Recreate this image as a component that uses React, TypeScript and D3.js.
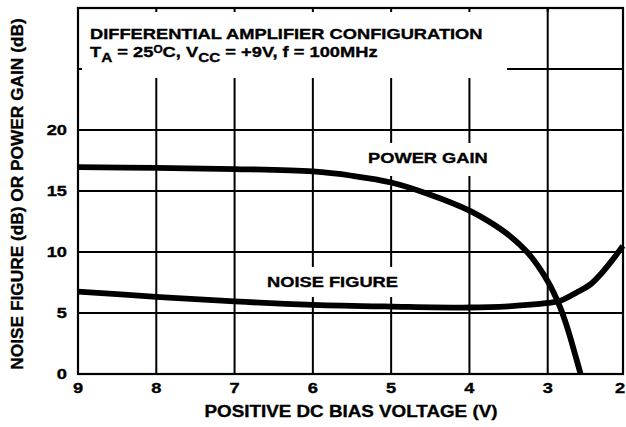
import React from 'react';
import * as d3 from 'd3';

// Power gain (dB) vs positive DC bias voltage (V)
const gainVolts = [9, 8, 7, 6, 5.5, 5, 4.5, 4, 3.75, 3.5, 3.25, 3.0, 2.85, 2.75, 2.65, 2.58];
const gainDb = [16.95, 16.9, 16.8, 16.6, 16.25, 15.7, 14.7, 13.4, 12.5, 11.4, 9.9, 7.6, 5.6, 3.8, 1.6, 0];

// Noise figure (dB) vs positive DC bias voltage (V)
const noiseVolts = [9, 8, 7, 6, 5, 4, 3.5, 3.0, 2.84, 2.63, 2.45, 2.32, 2.18, 2.04];
const noiseDb = [6.75, 6.33, 5.95, 5.67, 5.53, 5.45, 5.55, 5.82, 6.0, 6.68, 7.37, 8.2, 9.29, 10.5];

const xTicks = [9, 8, 7, 6, 5, 4, 3, 2];
const yTicks = [0, 5, 10, 15, 20];
const yGrid = [5, 10, 15, 20, 25];

const FONT = '"Liberation Sans", Arial, Helvetica, sans-serif';

// Helvetica in the original is set a little wide: stretch horizontally
const WideText: React.FC<{
  x: number; y: number; size?: number; sx?: number; anchor?: 'start' | 'middle' | 'end'; children: React.ReactNode;
}> = ({ x, y, size = 15.5, sx = 1.18, anchor = 'start', children }) => (
  <g transform={`translate(${x},${y}) scale(${sx},1)`}>
    <text textAnchor={anchor} fontSize={size} fontFamily={FONT} fontWeight="bold" fill="#000"
      stroke="#000" strokeWidth={0.35} style={{ whiteSpace: 'pre' }}>
      {children}
    </text>
  </g>
);

const App: React.FC = () => {
  const width = 626;
  const height = 427;
  const left = 78, right = 623, top = 8, bottom = 374;

  // the 2 V gridline falls right at the image edge
  const x = d3.scaleLinear().domain([9, 2]).range([left, 626]);
  const y = d3.scaleLinear().domain([0, 30]).range([bottom, top]);

  const line = d3.line<[number, number]>()
    .x(d => x(d[0]))
    .y(d => y(d[1]))
    .curve(d3.curveCatmullRom.alpha(0.5));

  const gainPath = line(gainVolts.map((v, i) => [v, gainDb[i]] as [number, number])) || '';
  const noisePath = line(noiseVolts.map((v, i) => [v, noiseDb[i]] as [number, number])) || '';

  return (
    <svg width={width} height={height} style={{ position: 'absolute', left: 0, top: 0, background: '#fff' }}>
      {/* grid */}
      {xTicks.slice(1, -1).map(v => (
        <line key={`gx${v}`} x1={x(v)} x2={x(v)} y1={y(0)} y2={y(30)} stroke="#000" strokeWidth={2} />
      ))}
      {yGrid.map(v => (
        <line key={`gy${v}`} x1={left} x2={right} y1={y(v)} y2={y(v)} stroke="#000" strokeWidth={2} />
      ))}

      {/* white areas behind title and curve labels */}
      <rect x={left + 1} y={top + 1} width={506 - left} height={77 - top} fill="#fff" />
      <rect x={362} y={143} width={132} height={33} fill="#fff" />
      <rect x={262} y={267} width={142} height={30} fill="#fff" />

      {/* small inward ticks on frame where the grid is masked */}
      {xTicks.slice(1, -1).map(v => (
        <line key={`tt${v}`} x1={x(v)} x2={x(v)} y1={top} y2={top + 4} stroke="#000" strokeWidth={2} />
      ))}
      <line x1={left} x2={left + 4} y1={y(25)} y2={y(25)} stroke="#000" strokeWidth={2} />

      {/* frame */}
      <rect x={left} y={top} width={right - left} height={bottom - top} fill="none" stroke="#000" strokeWidth={2.2} />

      {/* curves */}
      <path d={gainPath} fill="none" stroke="#000" strokeWidth={5.8} />
      <path d={noisePath} fill="none" stroke="#000" strokeWidth={5.8} />

      {/* title */}
      <WideText x={90} y={39.3}>DIFFERENTIAL AMPLIFIER CONFIGURATION</WideText>
      <WideText x={90} y={57.3}>
        <tspan>T</tspan>
        <tspan fontSize={13} dy={4.4}>A</tspan>
        <tspan dy={-4.4}>{' = 25'}</tspan>
        <tspan fontSize={10} dy={-4.3}>O</tspan>
        <tspan dy={4.3}>{'C, V'}</tspan>
        <tspan fontSize={13} dy={4.4}>CC</tspan>
        <tspan dy={-4.4}>{' = +9V, f = 100MHz'}</tspan>
      </WideText>

      {/* curve labels */}
      <WideText x={368} y={163}>POWER GAIN</WideText>
      <WideText x={267} y={287}>NOISE FIGURE</WideText>

      {/* tick labels */}
      {yTicks.map(v => (
        <WideText key={`yl${v}`} x={67} y={y(v) + 4.5} anchor="end">{String(v)}</WideText>
      ))}
      {xTicks.map(v => (
        <WideText key={`xl${v}`} x={Math.min(x(v), 620)} y={393} anchor="middle">{String(v)}</WideText>
      ))}

      {/* axis titles */}
      <WideText x={351} y={417} size={16.8} sx={1.12} anchor="middle">POSITIVE DC BIAS VOLTAGE (V)</WideText>
      <g transform={`translate(22.7,194) rotate(-90)`}>
        <text textAnchor="middle" fontSize={17.3} fontFamily={FONT} fontWeight="bold" fill="#000"
          stroke="#000" strokeWidth={0.35}>
          NOISE FIGURE (dB) OR POWER GAIN (dB)
        </text>
      </g>
    </svg>
  );
};

export default App;
